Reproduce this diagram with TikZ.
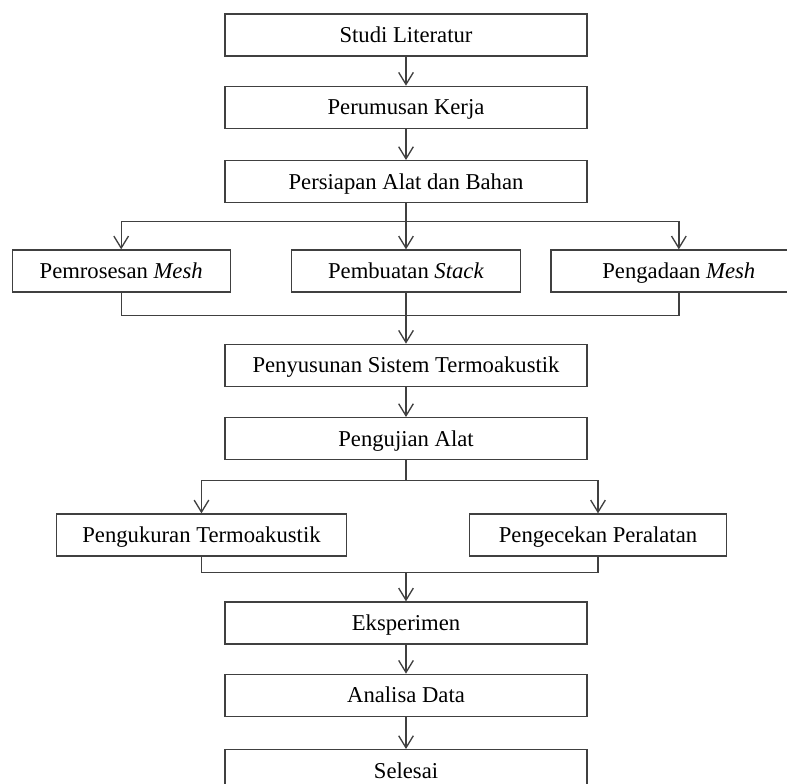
\documentclass[tikz,border=0pt]{standalone}
\usepackage{fontspec}
\setmainfont{Liberation Serif}
\usetikzlibrary{arrows.meta,positioning}

\tikzset{
    box/.style={draw=black!75, line width=1pt, minimum height=31.5pt,
        inner sep=0pt, text height=13pt, text depth=1.8pt,
        font=\fontsize{17}{19}\selectfont},
    wide/.style={box, minimum width=271.5pt},
    line/.style={draw=black!75, line width=1pt},
    flow/.style={line, -{Straight Barb[length=9pt,width=11pt,line width=1pt]}}
}

\begin{document}
\begin{tikzpicture}
    \useasboundingbox (0,0) rectangle (590.25pt,-587.25pt);
    \node[wide] (studi) at (304.5pt,-26.25pt) {Studi Literatur};
    \node[wide] (rumusan) [below=21.75pt of studi] {Perumusan Kerja};
    \node[wide] (siap) [below=23.25pt of rumusan] {Persiapan Alat dan Bahan};
    \node[box, minimum width=171.75pt] (buat) [below=34.5pt of siap] {Pembuatan \textit{Stack}};
    \node[box, minimum width=163.5pt] (proses) [left=45pt of buat] {Pemrosesan \textit{Mesh}};
    \node[box, minimum width=192pt] (ada) [right=21.75pt of buat] {Pengadaan \textit{Mesh}};
    \node[wide] (susun) [below=38.25pt of buat] {Penyusunan Sistem Termoakustik};
    \node[wide] (uji) [below=22.5pt of susun] {Pengujian Alat};
    \node[box, minimum width=217.5pt] (ukur) [below=39.75pt of uji, xshift=-153.4pt] {Pengukuran Termoakustik};
    \node[box, minimum width=192.75pt] (cek) [below=39.75pt of uji, xshift=144pt] {Pengecekan Peralatan};
    \node[wide] (eks) [below=105.75pt of uji] {Eksperimen};
    \node[wide] (analisa) [below=21.75pt of eks] {Analisa Data};
    \node[wide] (selesai) [below=24pt of analisa] {Selesai};

    % branch and merge points
    \path (siap.south) ++(0,-13.5pt) coordinate (bagi1);
    \path (buat.south) ++(0,-17.25pt) coordinate (gabung1);
    \path (uji.south) ++(0,-15pt) coordinate (bagi2);
    \path (ukur.south -| uji.south) ++(0,-12pt) coordinate (gabung2);

    \draw[flow] (studi) -- (rumusan);
    \draw[flow] (rumusan) -- (siap);
    \draw[flow] (siap) -- (buat);
    \draw[flow] (bagi1) -| (proses);
    \draw[flow] (bagi1) -| (ada);
    \draw[line] (proses) |- (gabung1) -| (ada);
    \draw[flow] (buat) -- (susun);
    \draw[flow] (susun) -- (uji);
    \draw[line] (uji) -- (bagi2);
    \draw[flow] (bagi2) -| (ukur);
    \draw[flow] (bagi2) -| (cek);
    \draw[line] (ukur) |- (gabung2) -| (cek);
    \draw[flow] (gabung2) -- (eks);
    \draw[flow] (eks) -- (analisa);
    \draw[flow] (analisa) -- (selesai);
\end{tikzpicture}
\end{document}
